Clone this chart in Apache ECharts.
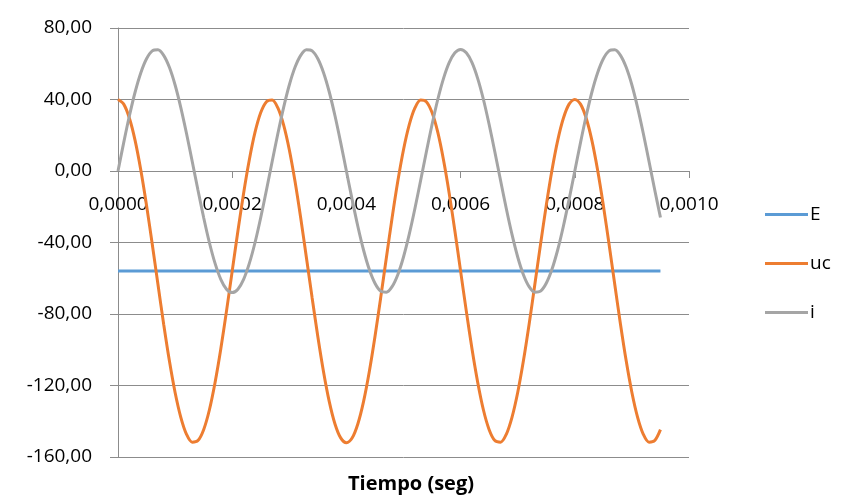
<!DOCTYPE html>
<html>
<head>
<meta charset="utf-8">
<script src="https://cdn.jsdelivr.net/npm/echarts@6/dist/echarts.min.js"></script>
<style>
html,body{margin:0;padding:0;background:#fff;}
#chart{width:849px;height:495px;}
</style>
</head>
<body>
<div id="chart"></div>
<script>
var tiempo = [0.00000,0.00001,0.00002,0.00003,0.00004,0.00005,0.00006,0.00007,0.00008,0.00009,
0.00010,0.00011,0.00012,0.00013,0.00014,0.00015,0.00016,0.00017,0.00018,0.00019,
0.00020,0.00021,0.00022,0.00023,0.00024,0.00025,0.00026,0.00027,0.00028,0.00029,
0.00030,0.00031,0.00032,0.00033,0.00034,0.00035,0.00036,0.00037,0.00038,0.00039,
0.00040,0.00041,0.00042,0.00043,0.00044,0.00045,0.00046,0.00047,0.00048,0.00049,
0.00050,0.00051,0.00052,0.00053,0.00054,0.00055,0.00056,0.00057,0.00058,0.00059,
0.00060,0.00061,0.00062,0.00063,0.00064,0.00065,0.00066,0.00067,0.00068,0.00069,
0.00070,0.00071,0.00072,0.00073,0.00074,0.00075,0.00076,0.00077,0.00078,0.00079,
0.00080,0.00081,0.00082,0.00083,0.00084,0.00085,0.00086,0.00087,0.00088,0.00089,
0.00090,0.00091,0.00092,0.00093,0.00094,0.00095];

var E = [-56,-56,-56,-56,-56,-56,-56,-56,-56,-56,
-56,-56,-56,-56,-56,-56,-56,-56,-56,-56,
-56,-56,-56,-56,-56,-56,-56,-56,-56,-56,
-56,-56,-56,-56,-56,-56,-56,-56,-56,-56,
-56,-56,-56,-56,-56,-56,-56,-56,-56,-56,
-56,-56,-56,-56,-56,-56,-56,-56,-56,-56,
-56,-56,-56,-56,-56,-56,-56,-56,-56,-56,
-56,-56,-56,-56,-56,-56,-56,-56,-56,-56,
-56,-56,-56,-56,-56,-56,-56,-56,-56,-56,
-56,-56,-56,-56,-56,-56];

var uc = [40.0,37.4,29.5,17.0,0.4,-19.3,-41.0,-63.5,-85.7,-106.2,
-123.9,-137.8,-147.3,-151.7,-150.8,-144.7,-133.7,-118.3,-99.6,-78.4,
-56.0,-33.6,-12.4,6.3,21.7,32.7,38.8,39.7,35.3,25.8,
11.9,-5.8,-26.3,-48.5,-71.0,-92.7,-112.4,-129.0,-141.5,-149.3,
-152.0,-149.4,-141.5,-129.0,-112.4,-92.7,-71.0,-48.5,-26.3,-5.8,
11.9,25.8,35.3,39.7,38.8,32.7,21.7,6.3,-12.4,-33.6,
-56.0,-78.4,-99.6,-118.3,-133.7,-144.7,-150.8,-151.7,-147.3,-137.8,
-123.9,-106.2,-85.7,-63.5,-41.0,-19.3,0.4,17.0,29.5,37.4,
40.0,37.4,29.5,17.0,0.4,-19.3,-41.0,-63.5,-85.7,-106.2,
-123.9,-137.8,-147.3,-151.7,-150.8,-144.7];

var corriente = [0,15.9,30.9,44.2,55.0,62.8,67.2,67.8,64.7,58.0,
48.1,35.5,21.0,5.3,-10.6,-26.0,-40.0,-51.7,-60.6,-66.1,
-68.0,-66.1,-60.6,-51.7,-40.0,-26.0,-10.6,5.3,21.0,35.5,
48.1,58.0,64.7,67.8,67.2,62.8,55.0,44.2,30.9,15.9,
0,-15.9,-30.9,-44.2,-55.0,-62.8,-67.2,-67.8,-64.7,-58.0,
-48.1,-35.5,-21.0,-5.3,10.6,26.0,40.0,51.7,60.6,66.1,
68.0,66.1,60.6,51.7,40.0,26.0,10.6,-5.3,-21.0,-35.5,
-48.1,-58.0,-64.7,-67.8,-67.2,-62.8,-55.0,-44.2,-30.9,-15.9,
0,15.9,30.9,44.2,55.0,62.8,67.2,67.8,64.7,58.0,
48.1,35.5,21.0,5.3,-10.6,-26.0];

var seriesNames = ['E','uc','i'];
var seriesColors = ['#5B9BD5','#ED7D31','#A5A5A5'];
var xTitle = 'Tiempo (seg)';

function pairs(xs, ys){ return xs.map(function(x,k){ return [x, ys[k]]; }); }

var FONT = 'Open Sans';
var chart = echarts.init(document.getElementById('chart'), null, {renderer:'canvas'});
chart.setOption({
  animation:false,
  backgroundColor:'#ffffff',
  title:{
    text:xTitle, left:411, top:474, textAlign:'center', padding:0,
    textStyle:{fontFamily:FONT, fontSize:20, fontWeight:'bold', color:'#000'}
  },
  grid:{left:118, right:160, top:28, bottom:38, containLabel:false, outerBoundsMode:'none'},
  legend:{
    orient:'vertical', left:765, top:205, padding:0,
    icon:'rect', itemWidth:43, itemHeight:3, itemGap:30,
    textStyle:{fontFamily:FONT, fontSize:19, color:'#000', padding:[0,0,0,-3]},
    data:seriesNames
  },
  xAxis:{
    type:'value', min:0, max:0.001, interval:0.0002,
    position:'bottom', offset:-286,
    axisLine:{onZero:false, lineStyle:{color:'#8C8C8C', width:1}},
    axisTick:{show:true, inside:false, length:7, lineStyle:{color:'#8C8C8C'}},
    axisLabel:{fontFamily:FONT, fontSize:19, color:'#000', margin:24,
      formatter:function(v){return v.toFixed(4).replace('.',',');}},
    splitLine:{show:false}
  },
  yAxis:{
    type:'value', min:-160, max:80, interval:40,
    axisLine:{show:true, onZero:false, lineStyle:{color:'#8C8C8C', width:1}},
    axisTick:{show:true, inside:false, length:8, lineStyle:{color:'#8C8C8C'}},
    axisLabel:{fontFamily:FONT, fontSize:19, color:'#000', margin:26,
      formatter:function(v){return v.toFixed(2).replace('.',',');}},
    splitLine:{show:true, lineStyle:{color:'#8C8C8C', width:1}}
  },
  series:[
    {name:seriesNames[0], type:'line', data:pairs(tiempo,E), showSymbol:false, symbol:'none', smooth:false,
      lineStyle:{color:seriesColors[0], width:3}, itemStyle:{color:seriesColors[0]}},
    {name:seriesNames[1], type:'line', data:pairs(tiempo,uc), showSymbol:false, symbol:'none', smooth:0.3,
      lineStyle:{color:seriesColors[1], width:3}, itemStyle:{color:seriesColors[1]}},
    {name:seriesNames[2], type:'line', data:pairs(tiempo,corriente), showSymbol:false, symbol:'none', smooth:0.3,
      lineStyle:{color:seriesColors[2], width:3}, itemStyle:{color:seriesColors[2]}}
  ]
});
</script>
</body>
</html>
